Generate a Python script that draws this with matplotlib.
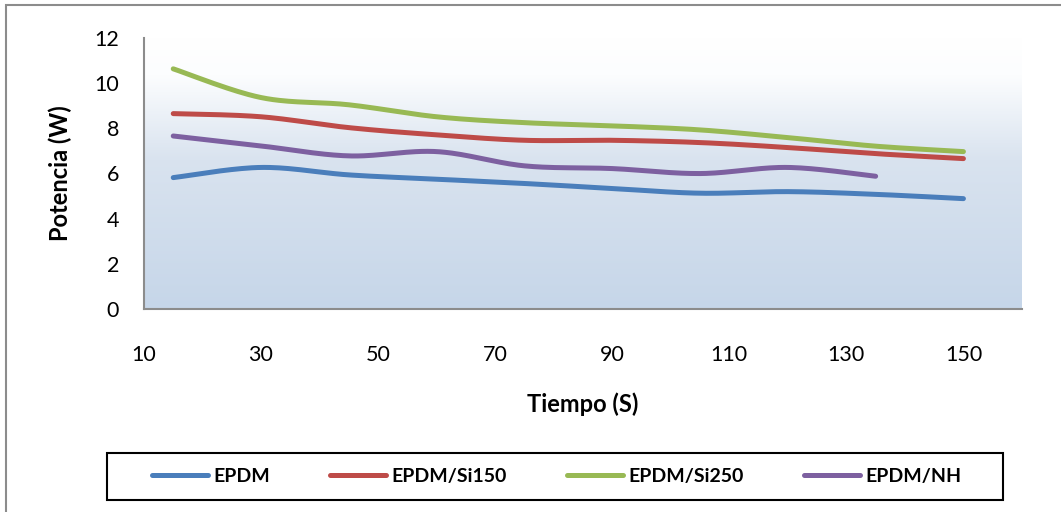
#!/usr/bin/env python3
# -*- coding: utf-8 -*-
"""Potencia vs Tiempo for the EPDM compounds (Excel-style smoothed lines)."""
import numpy as np
import matplotlib
matplotlib.use('Agg')
import matplotlib.pyplot as plt
import matplotlib as mpl
from matplotlib.colors import LinearSegmentedColormap
from matplotlib.lines import Line2D
from matplotlib.patches import Rectangle

# Data
tiempo = [15, 30, 45, 60, 75, 90, 105, 120, 135, 150]
epdm = [5.81, 6.26, 5.93, 5.74, 5.55, 5.33, 5.12, 5.19, 5.07, 4.88]
epdm_si150 = [8.64, 8.50, 8.02, 7.70, 7.46, 7.46, 7.36, 7.14, 6.87, 6.65]
epdm_si250 = [10.62, 9.35, 9.03, 8.50, 8.24, 8.10, 7.92, 7.58, 7.20, 6.96]
epdm_nh = [7.65, 7.21, 6.77, 6.96, 6.33, 6.21, 5.99, 6.26, 5.87]

series_names = ['EPDM', 'EPDM/Si150', 'EPDM/Si250', 'EPDM/NH']
series_vals = [epdm, epdm_si150, epdm_si250, epdm_nh]
series_cols = ['#4a7ebb', '#be4b48', '#98b954', '#7d60a0']

x_ticks = [10, 30, 50, 70, 90, 110, 130, 150]
y_ticks = [0, 2, 4, 6, 8, 10, 12]


def smooth(xs, ys, n=30):
    """Excel-like smoothed line: cubic Bezier segments, control points at 1/6."""
    xs = np.asarray(xs, float)
    ys = np.asarray(ys, float)
    pts = np.column_stack([xs, ys])
    out = [pts[0]]
    t = np.linspace(0, 1, n)[1:, None]
    for i in range(len(pts) - 1):
        p0 = pts[i - 1] if i > 0 else pts[i]
        p1 = pts[i]
        p2 = pts[i + 1]
        p3 = pts[i + 2] if i + 2 < len(pts) else pts[i + 1]
        c1 = p1 + (p2 - p0) / 6.0
        c2 = p2 - (p3 - p1) / 6.0
        seg = ((1 - t) ** 3) * p1 + 3 * ((1 - t) ** 2) * t * c1 \
            + 3 * (1 - t) * t ** 2 * c2 + t ** 3 * p2
        out.extend(seg)
    out = np.array(out)
    return out[:, 0], out[:, 1]


mpl.rcParams['font.family'] = ['Lato', 'DejaVu Sans']

fig = plt.figure(figsize=(10.61, 5.12), dpi=100)
fig.patch.set_facecolor('white')

# outer chart border (only the top/left edges show in the reference)
fig.patches.append(Rectangle((6 / 1061, -0.2), 2.0, 0.99 + 0.2,
                             transform=fig.transFigure, fill=False,
                             edgecolor='#8c8c8c', linewidth=1.5))

ax = fig.add_axes([0.1357, 0.3965, 0.8275, 0.530])
ax.set_xlim(10, 160)
ax.set_ylim(0, 12)

# gradient plot area background: white at top -> light blue at bottom
grad_cmap = LinearSegmentedColormap.from_list(
    'bg', [(0.0, '#c6d6e9'), (0.55, '#d9e3ef'), (0.86, '#fcfdfe'), (1.0, '#ffffff')])
grad = np.linspace(0, 1, 256)[:, None]
ax.imshow(grad, cmap=grad_cmap, aspect='auto', origin='lower',
          extent=[10, 160, 0, 12], zorder=0)

for vals, col in zip(series_vals, series_cols):
    sx, sy = smooth(tiempo[:len(vals)], vals)
    ax.plot(sx, sy, color=col, linewidth=3.6, solid_capstyle='round', zorder=3)

for s in ['top', 'right']:
    ax.spines[s].set_visible(False)
for s in ['left', 'bottom']:
    ax.spines[s].set_color('#8c8c8c')
    ax.spines[s].set_linewidth(1.5)

ax.set_xticks(x_ticks)
ax.set_yticks(y_ticks)
ax.tick_params(axis='y', length=0, pad=18, labelsize=15.5)
ax.tick_params(axis='x', length=0, pad=26, labelsize=15.5)

ax.set_xlabel('Tiempo (S)', fontsize=17, fontweight='bold', labelpad=20)
ax.set_ylabel('Potencia (W)', fontsize=17, fontweight='bold', labelpad=16)

# legend frame drawn separately so its size matches the reference
fig.patches.append(Rectangle((107 / 1061, 12 / 512), 896 / 1061, 47 / 512,
                             transform=fig.transFigure, fill=False,
                             edgecolor='black', linewidth=1.5))

handles = [Line2D([0], [0], color=c, linewidth=3.6, solid_capstyle='round')
           for c in series_cols]
leg = fig.legend(handles, series_names, loc='center',
                 bbox_to_anchor=(0.5245, 0.069), ncol=4, frameon=False,
                 prop={'weight': 'bold', 'size': 14},
                 handlelength=2.9, handletextpad=0.25, columnspacing=3.1,
                 borderpad=0.3)

fig.savefig('out.png', dpi=100, facecolor='white')
print('Saved: out.png')
